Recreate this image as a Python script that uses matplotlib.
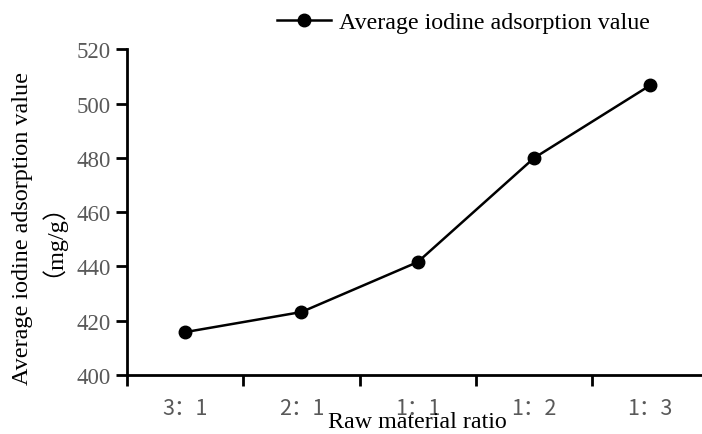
import matplotlib.pyplot as plt
import numpy as np

ratios = ['3：1', '2：1', '1：1', '1：2', '1：3']
iodine_values = [415.8, 423.2, 441.6, 479.9, 506.7]
y_ticks = [400, 420, 440, 460, 480, 500, 520]

serif = ['Liberation Serif', 'Noto Sans CJK SC']
cjk = ['Noto Sans CJK SC', 'DejaVu Sans']
gray = '#595959'

fig = plt.figure(figsize=(7.02, 4.35), dpi=100)
ax = fig.add_axes([0.181, 0.1356, 0.828, 0.749])

x = np.arange(len(ratios))
ax.plot(x, iodine_values, color='black', linewidth=1.8, marker='o',
        markersize=9, label='Average iodine adsorption value')

ax.set_xlim(-0.5, len(ratios) - 0.5)
ax.set_ylim(400, 520)

# ticks at category boundaries, labels at centres
ax.set_xticks(np.arange(len(ratios) + 1) - 0.5)
ax.set_xticklabels([])
ax.set_xticks(x, minor=True)
ax.set_xticklabels(ratios, minor=True, family=cjk, fontsize=15.5, color=gray)
ax.tick_params(axis='x', which='minor', length=0, pad=16)
ax.tick_params(axis='x', which='major', length=8, width=2)

ax.set_yticks(y_ticks)
ax.set_yticklabels([str(v) for v in y_ticks], family=serif, fontsize=16.5, color=gray)
ax.tick_params(axis='y', length=8, width=2, pad=4)

for s in ['top', 'right']:
    ax.spines[s].set_visible(False)
for s in ['left', 'bottom']:
    ax.spines[s].set_linewidth(2)

ax.set_xlabel('Raw material ratio', family=serif, fontsize=17.3)
ax.xaxis.set_label_coords(0.499, -0.11)
ax.set_ylabel('Average iodine adsorption value\n（mg/g）', family=serif,
              fontsize=17.4, linespacing=0.72)
ax.yaxis.set_label_coords(-0.128, 0.454)

fig.legend(loc='center left', bbox_to_anchor=(277 / 702, 1 - 23 / 435),
           frameon=False, prop={'family': serif, 'size': 17.3},
           handlelength=2.26, handletextpad=0.33, borderpad=0, borderaxespad=0)

fig.savefig('out.png', dpi=100)
